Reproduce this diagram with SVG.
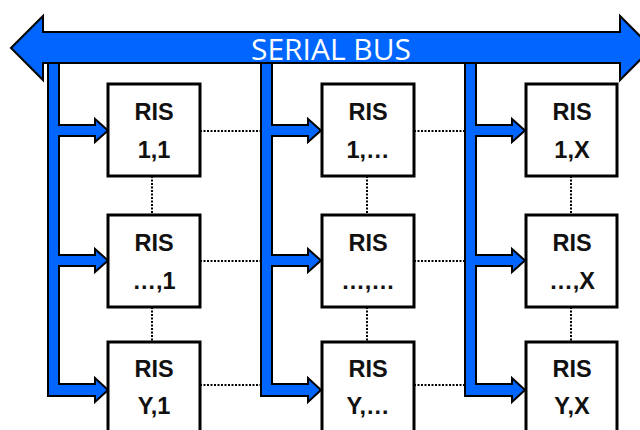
<svg xmlns="http://www.w3.org/2000/svg" width="640" height="430" viewBox="0 0 640 430">
  <style>
    .bar { fill: #0066ff; stroke: #000; stroke-width: 2; stroke-linejoin: miter; }
    .box { fill: #fff; stroke: #000; stroke-width: 3; }
    .lbl { font-family: "Liberation Sans", Arial, sans-serif; font-weight: bold; font-size: 23.5px; fill: #111; text-anchor: middle; }
    .dot { stroke: #000; stroke-width: 2; stroke-dasharray: 2 1.5; fill: none; }
    .bus-text { font-family: "Open Sans", "Liberation Sans", sans-serif; font-size: 30px; fill: #fff; text-anchor: middle; }
  </style>
  <defs>
    <!-- one feeder: vertical drop from the bus with three branch arrows -->
    <path id="feeder" d="M48,63 L59,63 L59,125 L95,125 L95,119 L108,130.5 L95,142 L95,136 L59,136 L59,255 L95,255 L95,249 L108,260.5 L95,272 L95,266 L59,266 L59,384 L95,384 L95,378 L108,390 L95,402 L95,396 L48,396 Z"/>
  </defs>

  <rect width="640" height="430" fill="#fff"/>

  <!-- dotted links between neighbouring boxes -->
  <g id="connectors">
    <line class="dot" x1="200" y1="131" x2="261" y2="131"/>
    <line class="dot" x1="414" y1="131" x2="465" y2="131"/>
    <line class="dot" x1="200" y1="261" x2="261" y2="261"/>
    <line class="dot" x1="414" y1="261" x2="465" y2="261"/>
    <line class="dot" x1="200" y1="385" x2="261" y2="385"/>
    <line class="dot" x1="414" y1="385" x2="465" y2="385"/>
    <line class="dot" x1="152" y1="176" x2="152" y2="215"/>
    <line class="dot" x1="152" y1="307" x2="152" y2="342"/>
    <line class="dot" x1="367" y1="176" x2="367" y2="215"/>
    <line class="dot" x1="367" y1="307" x2="367" y2="342"/>
    <line class="dot" x1="571" y1="176" x2="571" y2="215"/>
    <line class="dot" x1="571" y1="307" x2="571" y2="342"/>
  </g>

  <!-- feeders from the bus -->
  <g id="feeders">
    <use href="#feeder" class="bar"/>
    <use href="#feeder" class="bar" transform="translate(213,0)"/>
    <use href="#feeder" class="bar" transform="translate(417,0)"/>
  </g>

  <!-- serial bus -->
  <g id="bus">
    <path class="bar" d="M11,48 L43,16 L43,32 L620,32 L620,16 L652,48 L620,80 L620,63 L43,63 L43,80 Z"/>
    <text class="bus-text" x="331" y="60" textLength="160" lengthAdjust="spacingAndGlyphs">SERIAL BUS</text>
  </g>

  <!-- RIS grid -->
  <g id="ris-1-1"><rect class="box" x="108" y="84" width="92" height="92"/><text class="lbl" x="154" y="120">RIS</text><text class="lbl" x="154" y="158">1,1</text></g>
  <g id="ris-1-m"><rect class="box" x="322" y="84" width="92" height="92"/><text class="lbl" x="368" y="120">RIS</text><text class="lbl" x="368" y="158">1,…</text></g>
  <g id="ris-1-x"><rect class="box" x="526" y="84" width="91" height="92"/><text class="lbl" x="572" y="120">RIS</text><text class="lbl" x="572" y="158">1,X</text></g>

  <g id="ris-m-1"><rect class="box" x="108" y="215" width="92" height="92"/><text class="lbl" x="154" y="251">RIS</text><text class="lbl" x="154" y="289">…,1</text></g>
  <g id="ris-m-m"><rect class="box" x="322" y="215" width="92" height="92"/><text class="lbl" x="368" y="251">RIS</text><text class="lbl" x="368" y="289">…,…</text></g>
  <g id="ris-m-x"><rect class="box" x="526" y="215" width="91" height="92"/><text class="lbl" x="572" y="251">RIS</text><text class="lbl" x="572" y="289">…,X</text></g>

  <g id="ris-y-1"><rect class="box" x="108" y="342" width="92" height="100"/><text class="lbl" x="154" y="377">RIS</text><text class="lbl" x="154" y="414">Y,1</text></g>
  <g id="ris-y-m"><rect class="box" x="322" y="342" width="92" height="100"/><text class="lbl" x="368" y="377">RIS</text><text class="lbl" x="368" y="414">Y,…</text></g>
  <g id="ris-y-x"><rect class="box" x="526" y="342" width="91" height="100"/><text class="lbl" x="572" y="377">RIS</text><text class="lbl" x="572" y="414">Y,X</text></g>
</svg>
